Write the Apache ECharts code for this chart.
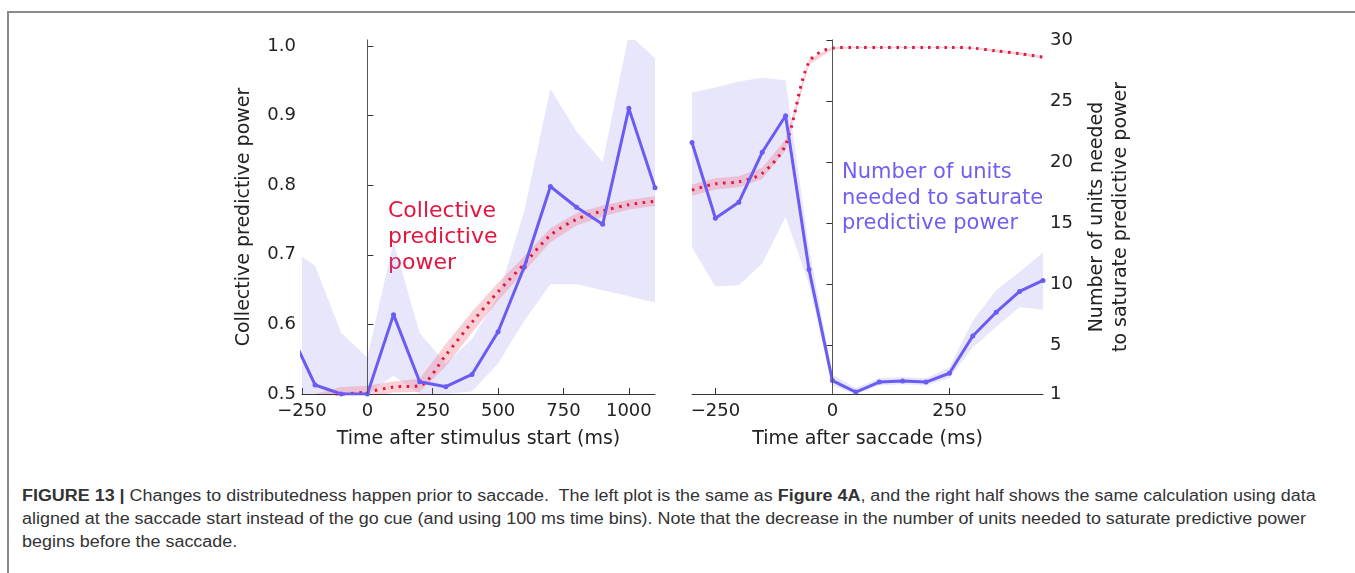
<!DOCTYPE html>
<html>
<head>
<meta charset="utf-8">
<script src="https://cdn.jsdelivr.net/npm/echarts@6/dist/echarts.min.js"></script>
<style>
html,body{margin:0;padding:0;background:#fff;}
#wrap{position:relative;width:1355px;height:573px;overflow:hidden;}
#chart{position:absolute;left:0;top:0;width:1355px;height:480px;}
#frame{position:absolute;left:7px;top:11px;width:1360px;height:580px;border-left:2px solid #8a8a8a;border-top:2px solid #8a8a8a;}
#caption{position:absolute;left:22px;top:484px;white-space:nowrap;font:16px/23px "Liberation Sans",Arial,sans-serif;color:#333;
	transform:scaleX(1.12);transform-origin:0 0;}
</style>
</head>
<body>
<div id="wrap">
<div id="frame"></div>
<div id="chart"></div>
<div id="caption"><b>FIGURE 13 |</b> Changes to distributedness happen prior to saccade.&nbsp; The left plot is the same as <b>Figure 4A</b>, and the right half shows the same calculation using data<br>aligned at the saccade start instead of the go cue (and using 100 ms time bins). Note that the decrease in the number of units needed to saturate predictive power<br>begins before the saccade.</div>
</div>
<script>
// left half: aligned on stimulus start
var stimTime    = [-300, -200, -100, 0, 100, 200, 300, 400, 500, 600, 700, 800, 900, 1000, 1100];
var stimUnits   = [6.3, 1.74, 1.0, 1.0, 7.5, 2.0, 1.6, 2.6, 6.1, 11.4, 18.0, 16.3, 14.9, 24.4, 17.9];
var stimUnitsHi = [13, 11.5, 6, 4, 13.5, 6, 3.5, 5.5, 9, 16, 26, 22.5, 20, 30.5, 28.5];
var stimUnitsLo = [1, 1, 1, 1, 2.5, 1, 1, 1.2, 3.5, 7, 10, 10, 9.5, 9, 8.5];
var stimPower   = [0.48, 0.49, 0.499, 0.503, 0.51, 0.512, 0.556, 0.603, 0.647, 0.687, 0.728, 0.751, 0.763, 0.772, 0.777];
var stimPowerHi = [0.49, 0.50, 0.510, 0.512, 0.518, 0.522, 0.572, 0.618, 0.660, 0.698, 0.738, 0.760, 0.771, 0.779, 0.784];
var stimPowerLo = [0.47, 0.48, 0.490, 0.495, 0.502, 0.503, 0.540, 0.588, 0.634, 0.676, 0.718, 0.742, 0.755, 0.765, 0.770];

// right half: aligned on saccade start
var sacTime    = [-300, -250, -200, -150, -100, -50, 0, 50, 100, 150, 200, 250, 300, 350, 400, 450];
var sacUnits   = [21.6, 15.4, 16.7, 20.8, 23.8, 11.2, 2.1, 1.16, 1.98, 2.07, 1.98, 2.7, 5.75, 7.7, 9.4, 10.3];
var sacUnitsHi = [25.7, 26.1, 26.6, 26.9, 26.7, 13, 2.6, 1.5, 2.3, 2.4, 2.3, 3.2, 7, 9.5, 11, 12.6];
var sacUnitsLo = [13, 9.8, 9.9, 11.7, 15.5, 10, 1.7, 1, 1.7, 1.8, 1.7, 2.3, 4.8, 6.5, 8.1, 7.9];
var sacPower   = [0.793, 0.802, 0.805, 0.817, 0.858, 0.977, 0.997, 0.998, 0.998, 0.998, 0.998, 0.998, 0.997, 0.993, 0.989, 0.984];
var sacPowerHi = [0.801, 0.810, 0.813, 0.825, 0.866, 0.981, 0.999, 0.999, 0.999, 0.999, 0.999, 0.999, 0.998, 0.995, 0.991, 0.986];
var sacPowerLo = [0.785, 0.794, 0.797, 0.809, 0.850, 0.973, 0.995, 0.997, 0.997, 0.997, 0.997, 0.997, 0.996, 0.991, 0.987, 0.982];

// axis ticks
var powerTicks = [0.5, 0.6, 0.7, 0.8, 0.9, 1.0];
var unitTicks  = [1, 5, 10, 15, 20, 25, 30];
var stimTicks  = [-250, 0, 250, 500, 750, 1000];
var sacTicks   = [-250, 0, 250];

var blue = '#6a5cf2', blueBand = 'rgba(140,128,236,0.2)';
var red = '#e3163f', pinkBand = 'rgba(240,110,130,0.32)';
var ink = '#222', font = 'DejaVu Sans';

function zip(xs, ys){ var out = []; for(var i=0;i<xs.length;i++){ out.push([xs[i], ys[i]]); } return out; }
function minus(v){ return v < 0 ? '\u2212' + Math.abs(v) : String(v); }

// shaded band drawn as one polygon, clipped to the grid
function band(xi, yi, xs, hi, lo, color){
	return { type:'custom', xAxisIndex:xi, yAxisIndex:yi, data:zip(xs, hi), silent:true,
		renderItem:function(params, api){
			if(params.dataIndex !== 0) return null;
			var pts = [], i;
			for(i=0;i<xs.length;i++) pts.push(api.coord([xs[i], hi[i]]));
			for(i=xs.length-1;i>=0;i--) pts.push(api.coord([xs[i], lo[i]]));
			var cs = params.coordSys;
			return { type:'polygon', shape:{points:pts}, style:{fill:color},
				clipPath:{type:'rect', shape:{x:cs.x, y:cs.y, width:cs.width, height:cs.height}} };
		} };
}
function dotted(xi, yi, xs, ys){
	return { type:'line', xAxisIndex:xi, yAxisIndex:yi, data:zip(xs, ys), symbol:'none', smooth:0.3,
		lineStyle:{color:red, width:3, type:[2.5, 5.5], cap:'butt'}, silent:true };
}
function solid(xi, yi, xs, ys){
	return { type:'line', xAxisIndex:xi, yAxisIndex:yi, data:zip(xs, ys), symbol:'circle', symbolSize:5,
		itemStyle:{color:blue}, lineStyle:{color:blue, width:3}, silent:true };
}
function zeroLine(xi, yi){
	return { type:'line', xAxisIndex:xi, yAxisIndex:yi, data:[], silent:true,
		markLine:{ symbol:'none', silent:true, label:{show:false},
			lineStyle:{color:'#555', width:1, type:'solid'}, data:[{xAxis:0}] } };
}

var axisBase = {
	axisLine:{show:true, lineStyle:{color:'#333', width:1}},
	axisTick:{show:true, inside:true, length:6, lineStyle:{color:'#333'}},
	splitLine:{show:false},
	axisLabel:{color:ink, fontFamily:font, fontSize:18},
	nameTextStyle:{color:ink, fontFamily:font, fontSize:19},
	nameMoveOverlap:false
};
function ax(extra){ return echarts.util.merge(echarts.util.clone(axisBase), extra, true); }

var chart = echarts.init(document.getElementById('chart'));
var series = [
	band(0, 1, stimTime, stimUnitsHi, stimUnitsLo, blueBand),
	band(0, 0, stimTime, stimPowerHi, stimPowerLo, pinkBand),
	zeroLine(0, 0),
	dotted(0, 0, stimTime, stimPower),
	solid(0, 1, stimTime, stimUnits),
	band(1, 2, sacTime, sacUnitsHi, sacUnitsLo, blueBand),
	band(1, 3, sacTime, sacPowerHi, sacPowerLo, pinkBand),
	zeroLine(1, 2),
	dotted(1, 3, sacTime, sacPower),
	solid(1, 2, sacTime, sacUnits)
];

chart.setOption({
	animation:false,
	backgroundColor:'transparent',
	grid:[
		{left:302, top:40, width:353, height:354, outerBoundsMode:'none'},
		{left:692, top:40, width:351, height:354, outerBoundsMode:'none'}
	],
	xAxis:[
		ax({gridIndex:0, type:'value', min:-250, max:1100,
			name:'Time after stimulus start (ms)', nameLocation:'middle', nameGap:36,
			axisTick:{customValues:stimTicks}, axisLabel:{customValues:stimTicks, formatter:minus, margin:8}}),
		ax({gridIndex:1, type:'value', min:-300, max:450,
			name:'Time after saccade (ms)', nameLocation:'middle', nameGap:36,
			axisTick:{customValues:sacTicks}, axisLabel:{customValues:sacTicks, formatter:minus, margin:8}})
	],
	yAxis:[
		ax({gridIndex:0, type:'value', position:'left', min:0.5, max:0.5 + 354/696,
			name:'Collective predictive power', nameLocation:'middle', nameGap:48,
			axisTick:{customValues:powerTicks}, axisLabel:{customValues:powerTicks, margin:6,
				formatter:function(v){ return v.toFixed(1); }}}),
		{gridIndex:0, type:'value', min:1, max:30, show:false},
		ax({gridIndex:1, type:'value', position:'right', min:1, max:30,
			name:'Number of units needed\nto saturate predictive power', nameLocation:'middle', nameGap:42,
			nameTextStyle:{lineHeight:24},
			axisTick:{customValues:unitTicks}, axisLabel:{customValues:unitTicks, margin:7}}),
		{gridIndex:1, type:'value', min:0.5, max:0.5 + 354/696, show:false}
	],
	graphic:[
		{type:'text', left:388, top:198, silent:true,
			style:{text:'Collective\npredictive\npower', fill:red, fontFamily:font, fontSize:22, lineHeight:26}},
		{type:'text', left:842, top:160, silent:true,
			style:{text:'Number of units\nneeded to saturate\npredictive power', fill:'#6f5ff0', fontFamily:font, fontSize:21, lineHeight:25.5}}
	],
	series:series
});
</script>
</body>
</html>
